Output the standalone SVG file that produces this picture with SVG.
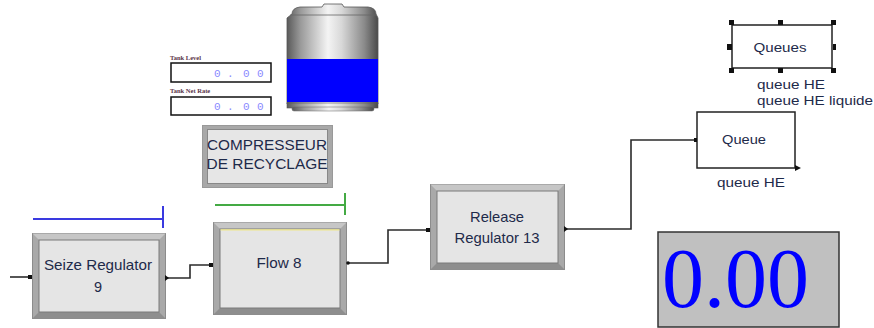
<svg xmlns="http://www.w3.org/2000/svg" width="874" height="328" viewBox="0 0 874 328">
  <style>
    .lbl { font-family: "Liberation Sans", Arial, sans-serif; font-size: 14.5px; fill: #1e2a4a; text-anchor: middle; }
    .qlbl { font-family: "Liberation Sans", Arial, sans-serif; font-size: 13px; fill: #1e2a4a; }
    .frame { fill: #a9a9a9; stroke: #8c8c8c; stroke-width: 1; }
    .inner { fill: #e5e5e5; stroke: #7a7a7a; stroke-width: 1; }
    .wire { fill: none; stroke: #2b2b2b; stroke-width: 1.6; }
    .port { fill: #111; }
    .tiny { font-family: "Liberation Serif", serif; font-size: 6.5px; font-weight: bold; fill: #5a3448; }
    .digits { font-family: "Liberation Mono", monospace; font-size: 11px; fill: #8a8aff; }
    .box { fill: #fff; stroke: #222; stroke-width: 1.5; }
    .handle { fill: #111; }
  </style>
  <defs>
    <linearGradient id="metal" x1="0" y1="0" x2="1" y2="0">
      <stop offset="0" stop-color="#5a5a5a"/>
      <stop offset="0.15" stop-color="#9a9a9a"/>
      <stop offset="0.45" stop-color="#f4f4f4"/>
      <stop offset="0.6" stop-color="#d8d8d8"/>
      <stop offset="0.85" stop-color="#8a8a8a"/>
      <stop offset="1" stop-color="#4a4a4a"/>
    </linearGradient>
  </defs>

  <!-- tank gauge -->
  <g id="tank">
    <path d="M292 14 Q292 8 300 7 L322 7 L324 4 L342 4 L344 7 L368 7 Q376 8 376 14 L378 18 L378 104 L374 108 L292 108 L287 104 L287 18 Z" fill="url(#metal)" stroke="#555" stroke-width="0.8"/>
    <rect x="287" y="103" width="91" height="5" fill="url(#metal)" stroke="#555" stroke-width="0.6"/>
    <rect x="292" y="107" width="82" height="4" rx="2" fill="url(#metal)" stroke="#666" stroke-width="0.5"/>
    <path d="M290 15 L376 15" stroke="#666" stroke-width="0.8"/>
    <rect x="287" y="59" width="91" height="43" fill="#0000ff"/>
  </g>

  <!-- tank level readouts -->
  <g id="tank-level">
    <text class="tiny" x="170" y="60">Tank Level</text>
    <rect x="171" y="63" width="100" height="19" fill="#fff" stroke="#111" stroke-width="1.5"/>
    <text class="digits" x="214 227 243 257" y="77">0.00</text>
  </g>
  <g id="tank-net-rate">
    <text class="tiny" x="170" y="93">Tank Net Rate</text>
    <rect x="171" y="97" width="100" height="18" fill="#fff" stroke="#111" stroke-width="1.5"/>
    <text class="digits" x="214 227 243 257" y="110">0.00</text>
  </g>

  <!-- compressor label block -->
  <g id="compresseur">
    <rect x="202.5" y="125.5" width="130" height="62" fill="#a8a8a8" stroke="#999"/>
    <rect x="207.5" y="129.5" width="120" height="54" fill="#e6e6e6" stroke="#888"/>
    <text class="lbl" x="267" y="150" textLength="120" lengthAdjust="spacingAndGlyphs">COMPRESSEUR</text>
    <text class="lbl" x="267" y="169" textLength="121" lengthAdjust="spacingAndGlyphs">DE RECYCLAGE</text>
  </g>

  <!-- resource bars -->
  <g id="seize-bar">
    <path d="M33 219 H163 M163 206 V228" stroke="#3a3ae0" stroke-width="2" fill="none"/>
  </g>
  <g id="flow-bar">
    <path d="M215 205 H345 M345 193 V215" stroke="#44aa44" stroke-width="2" fill="none"/>
  </g>

  <!-- process modules -->
  <g id="seize-regulator">
    <rect class="frame" x="32.5" y="233.5" width="133" height="85"/>
    <path d="M32.5 233.5 H165.5 L159 240 H39 Z" fill="#c6c6c6"/>
    <path d="M32.5 318.5 H165.5 L159 312 H39 Z" fill="#8e8e8e"/>
    <rect class="inner" x="39" y="240" width="120" height="72"/>
    <text class="lbl" x="98" y="270" textLength="108" lengthAdjust="spacingAndGlyphs">Seize Regulator</text>
    <text class="lbl" x="98" y="292">9</text>
  </g>
  <g id="flow-8">
    <rect class="frame" x="213.5" y="222.5" width="133" height="92"/>
    <path d="M213.5 222.5 H346.5 L340 229 H220 Z" fill="#c6c6c6"/>
    <path d="M213.5 314.5 H346.5 L340 308 H220 Z" fill="#8e8e8e"/>
    <rect class="inner" x="220" y="229" width="120" height="79"/>
    <line x1="220.5" y1="229.8" x2="339.5" y2="229.8" stroke="#f0e88a" stroke-width="1.2"/>
    <text class="lbl" x="279" y="268" textLength="45" lengthAdjust="spacingAndGlyphs">Flow 8</text>
  </g>
  <g id="release-regulator">
    <rect class="frame" x="430.5" y="184.5" width="134" height="85"/>
    <path d="M430.5 184.5 H564.5 L558 191 H437 Z" fill="#c6c6c6"/>
    <path d="M430.5 269.5 H564.5 L558 263 H437 Z" fill="#8e8e8e"/>
    <rect class="inner" x="437" y="191" width="121" height="72"/>
    <text class="lbl" x="497" y="222" textLength="54" lengthAdjust="spacingAndGlyphs">Release</text>
    <text class="lbl" x="497" y="243" textLength="85" lengthAdjust="spacingAndGlyphs">Regulator 13</text>
  </g>

  <!-- queue module -->
  <g id="queue">
    <rect class="box" x="697" y="112" width="98" height="56"/>
    <text class="qlbl" x="744" y="144" text-anchor="middle" textLength="44" lengthAdjust="spacingAndGlyphs">Queue</text>
    <path d="M795 165 L801 168 L795 171 Z" fill="#111"/>
    <text class="qlbl" x="751" y="187" text-anchor="middle" textLength="68" lengthAdjust="spacingAndGlyphs">queue HE</text>
  </g>

  <!-- queues data block (selected) -->
  <g id="queues">
    <rect class="box" x="732" y="25" width="100" height="43"/>
    <text class="qlbl" x="780" y="52" text-anchor="middle" textLength="53" lengthAdjust="spacingAndGlyphs">Queues</text>
    <rect class="handle" x="729" y="20" width="5" height="5"/>
    <rect class="handle" x="778" y="20" width="5" height="5"/>
    <rect class="handle" x="831" y="20" width="5" height="5"/>
    <rect class="handle" x="727" y="44" width="5" height="6"/>
    <rect class="handle" x="833" y="44" width="3" height="6"/>
    <rect class="handle" x="729" y="68" width="5" height="5"/>
    <rect class="handle" x="778" y="68" width="5" height="5"/>
    <rect class="handle" x="831" y="68" width="5" height="5"/>
    <text class="qlbl" x="757" y="89" textLength="68" lengthAdjust="spacingAndGlyphs">queue HE</text>
    <text class="qlbl" x="757" y="105" textLength="116" lengthAdjust="spacingAndGlyphs">queue HE liquide</text>
  </g>

  <!-- digital display -->
  <g id="display">
    <rect x="658" y="232" width="181" height="95" fill="#c0c0c0" stroke="#333" stroke-width="1.5"/>
    <text x="662" y="307" style="font-family:'Liberation Serif','Times New Roman',serif;font-size:84px;fill:#0000ff">0.00</text>
  </g>

  <!-- connectors -->
  <g id="connectors">
    <path class="wire" d="M10 277 H30"/>
    <rect class="port" x="28" y="275" width="4" height="4"/>
    <path class="wire" d="M166 278 H190 V265 H212"/>
    <path class="port" d="M165 275 L169 278 L165 281 Z"/>
    <rect class="port" x="209" y="263" width="4" height="4"/>
    <path class="wire" d="M347 263 H388 V230 H428"/>
    <circle class="port" cx="348" cy="263" r="1.8"/>
    <rect class="port" x="426" y="228" width="4" height="4"/>
    <path class="wire" d="M565 229 H631 V140 H696"/>
    <path class="port" d="M564 226 L568 229 L564 232 Z"/>
    <rect class="port" x="694" y="138" width="3" height="4"/>
  </g>
</svg>
